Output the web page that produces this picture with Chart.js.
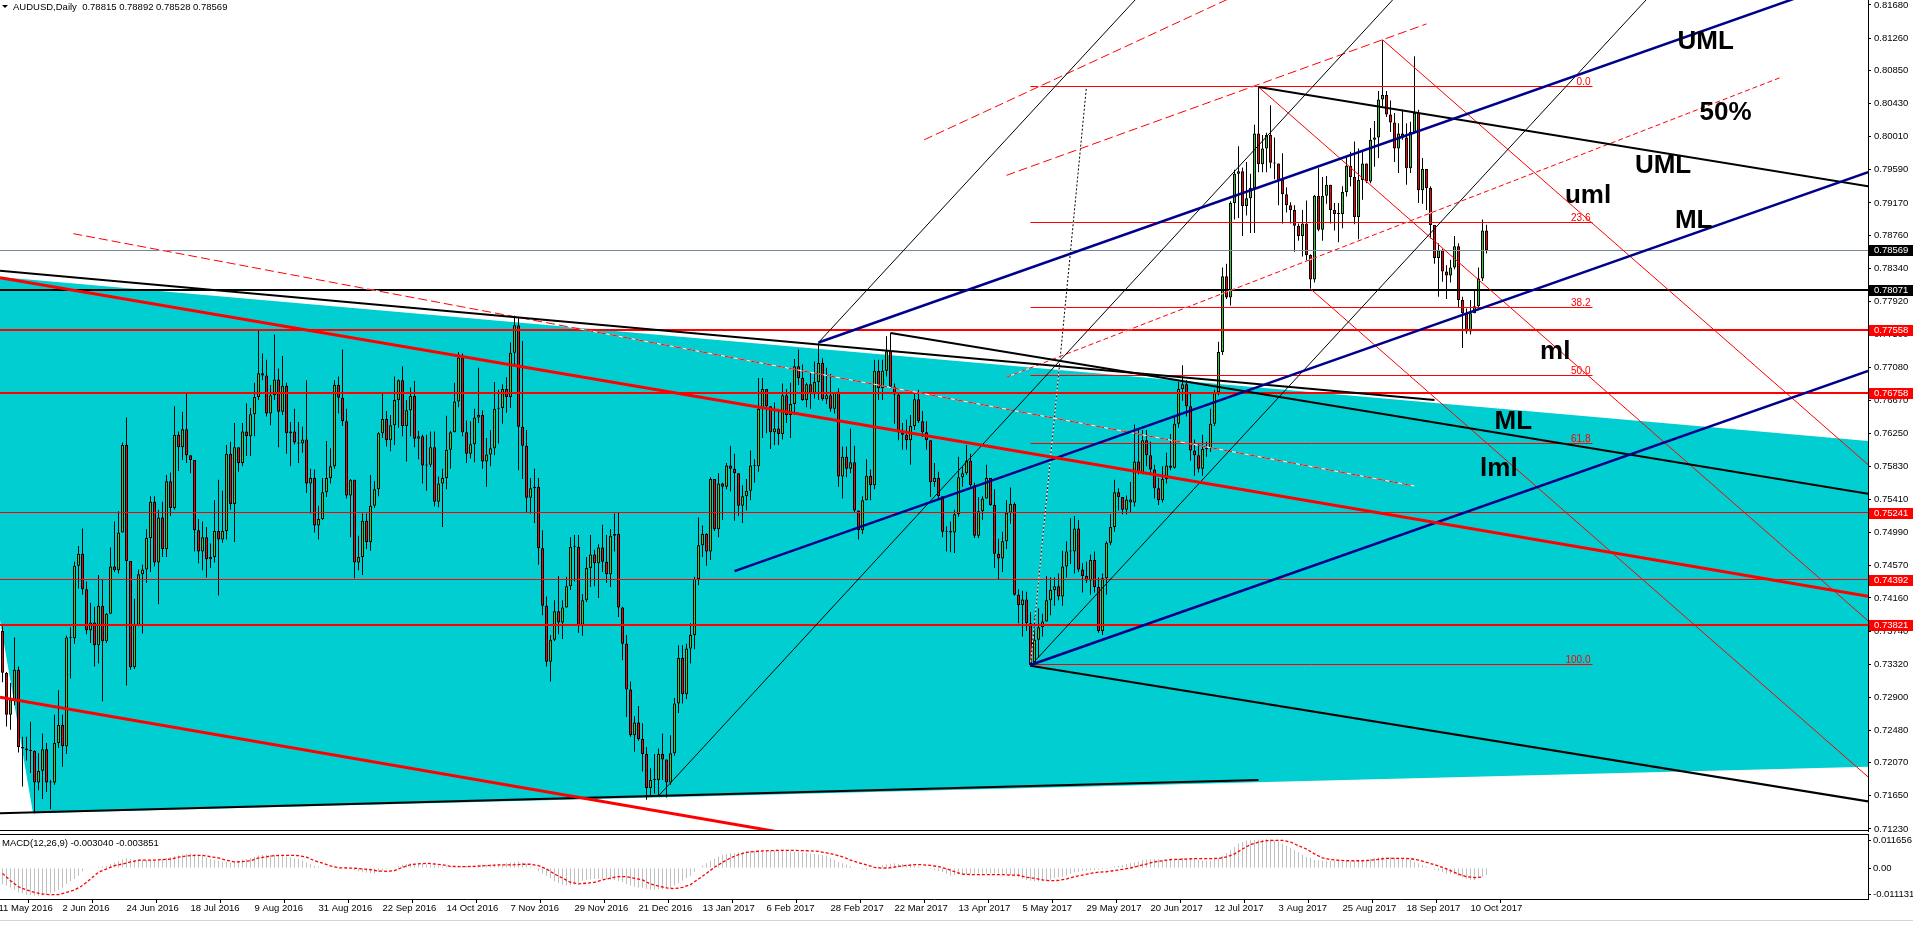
<!DOCTYPE html>
<html>
<head>
<meta charset="utf-8">
<script src="https://cdn.jsdelivr.net/npm/chart.js@4.4.0/dist/chart.umd.min.js"></script>
<style>
  html, body { margin: 0; padding: 0; background: #fff; overflow: hidden; }
  #wrap { position: relative; width: 1913px; height: 925px; }
  #main { position: absolute; left: 0; top: 0; }
  #macd { position: absolute; left: 0; top: 833px; }
</style>
</head>
<body>
<div id="wrap">
  <canvas id="main" width="1913" height="833"></canvas>
  <canvas id="macd" width="1913" height="92"></canvas>
</div>
<script>
// AUDUSD daily, 12 May 2016 .. 16 Oct 2017 (bar index 0..371)
const firstOpen = 0.7374;
const closes = [
0.7321,0.7268,0.7287,0.7325,0.7227,0.7225,0.7223,0.7222,0.7182,0.7197,
0.7224,0.7182,0.7182,0.7232,0.7255,0.7228,0.7366,0.7365,0.7457,0.7472,
0.7427,0.7375,0.7385,0.7356,0.7406,0.7361,0.7396,0.7456,0.7451,0.7499,
0.7610,0.7463,0.7328,0.7382,0.7446,0.7452,0.7492,0.7538,0.7461,0.7518,
0.7478,0.7564,0.7530,0.7623,0.7607,0.7630,0.7597,0.7591,0.7502,0.7475,
0.7493,0.7465,0.7468,0.7501,0.7490,0.7501,0.7599,0.7535,0.7607,0.7587,
0.7627,0.7621,0.7649,0.7671,0.7701,0.7698,0.7650,0.7673,0.7693,0.7652,
0.7685,0.7625,0.7627,0.7613,0.7612,0.7617,0.7561,0.7568,0.7508,0.7516,
0.7550,0.7568,
0.7583,0.7686,0.7670,0.7640,0.7546,0.7566,0.7461,0.7468,0.7514,0.7487,
0.7533,0.7554,0.7625,0.7643,0.7616,0.7635,0.7667,0.7692,0.7634,0.7654,
0.7672,0.7618,0.7621,0.7584,0.7585,0.7607,0.7538,0.7561,0.7568,0.7604,
0.7626,0.7665,0.7721,0.7626,0.7599,0.7611,0.7645,0.7648,0.7589,0.7598,
0.7606,0.7656,0.7657,0.7681,0.7671,0.7727,0.7762,0.7633,0.7609,0.7543,
0.7555,0.7557,0.7479,0.7406,0.7335,0.7363,0.7399,0.7385,0.7404,0.7431,
0.7481,0.7481,0.7382,0.7413,0.7454,0.7471,0.7460,0.7480,0.7462,0.7446,
0.7495,0.7497,0.7404,0.7358,0.7300,0.7242,0.7258,0.7237,0.7218,0.7175,
0.7185,0.7185,
0.7218,0.7211,0.7182,0.7219,0.7282,0.7340,0.7294,0.7352,0.7369,0.7440,
0.7483,0.7497,0.7475,0.7567,0.7503,0.7561,0.7557,0.7584,0.7580,0.7574,
0.7533,0.7545,0.7552,0.7584,0.7583,0.7656,0.7681,0.7659,0.7626,0.7631,
0.7624,0.7673,0.7648,0.7662,0.7710,0.7695,0.7667,0.7687,0.7675,0.7690,
0.7714,0.7668,0.7673,0.7656,0.7676,0.7570,0.7595,0.7580,0.7588,0.7527,
0.7502,0.7540,0.7571,0.7559,0.7704,0.7682,0.7704,0.7729,0.7684,0.7674,
0.7626,0.7623,0.7616,0.7634,0.7668,0.7640,0.7626,0.7616,0.7563,0.7568,
0.7545,0.7500,0.7501,0.7499,0.7522,0.7569,0.7574,0.7590,0.7559,0.7495,
0.7526,0.7542,
0.7568,0.7534,0.7472,0.7466,0.7488,0.7524,0.7535,0.7420,0.7407,0.7414,
0.7384,0.7331,0.7363,0.7379,0.7386,0.7413,0.7426,0.7431,0.7418,0.7456,
0.7475,0.7475,0.7504,0.7452,0.7444,0.7438,0.7464,0.7430,0.7374,0.7441,
0.7486,0.7506,0.7550,0.7544,0.7528,0.7541,0.7537,0.7589,0.7575,0.7616,
0.7597,0.7579,0.7555,0.7540,0.7567,0.7584,0.7581,0.7637,0.7681,0.7687,
0.7659,0.7603,0.7597,0.7580,0.7605,0.7606,0.7637,0.7677,0.7728,0.7824,
0.7797,0.7917,0.7954,0.7957,0.7913,0.7923,0.7936,0.8005,0.7966,0.7986,
0.8003,0.7968,0.7967,0.7946,0.7928,0.7914,0.7908,0.7888,0.7875,0.7891,
0.7851,0.7820,
0.7926,0.7883,0.7926,0.7940,0.7908,0.7903,0.7903,0.7931,0.7964,0.7950,
0.7899,0.7946,0.7967,0.7944,0.7997,0.8000,0.8048,0.8054,0.8029,0.8019,
0.7986,0.8005,0.8000,0.7961,0.8007,0.8031,0.7933,0.7960,0.7936,0.7889,
0.7847,0.7857,0.7830,0.7825,0.7835,0.7862,0.7794,0.7777,0.7754,0.7777,
0.7786,0.7821,0.7882,0.78569
];
const highs = [
0.7380,0.7322,0.7308,0.7366,0.7329,0.7240,0.7240,0.7259,0.7223,0.7219,
0.7244,0.7232,0.7185,0.7268,0.7299,0.7268,0.7368,0.7379,0.7462,0.7482,
0.7504,0.7437,0.7410,0.7405,0.7445,0.7440,0.7397,0.7480,0.7513,0.7526,
0.7613,0.7645,0.7451,0.7415,0.7452,0.7458,0.7503,0.7545,0.7545,0.7528,
0.7538,0.7572,0.7575,0.7659,0.7627,0.7652,0.7676,0.7595,0.7587,0.7516,
0.7513,0.7506,0.7485,0.7540,0.7566,0.7552,0.7610,0.7614,0.7638,0.7607,
0.7638,0.7663,0.7657,0.7689,0.7756,0.7726,0.7718,0.7686,0.7750,0.7707,
0.7723,0.7689,0.7639,0.7656,0.7639,0.7633,0.7692,0.7580,0.7579,0.7533,
0.7568,0.7615,
0.7606,0.7692,0.7697,0.7731,0.7656,0.7567,0.7566,0.7495,0.7523,0.7523,
0.7572,0.7564,0.7626,0.7676,0.7653,0.7648,0.7697,0.7693,0.7710,0.7667,
0.7683,0.7691,0.7628,0.7623,0.7623,0.7627,0.7627,0.7570,0.7580,0.7647,
0.7628,0.7689,0.7728,0.7726,0.7641,0.7640,0.7656,0.7708,0.7654,0.7619,
0.7629,0.7690,0.7680,0.7687,0.7696,0.7740,0.7774,0.7771,0.7742,0.7629,
0.7568,0.7580,0.7568,0.7502,0.7418,0.7369,0.7413,0.7444,0.7413,0.7443,
0.7493,0.7496,0.7496,0.7421,0.7468,0.7496,0.7477,0.7484,0.7509,0.7496,
0.7503,0.7523,0.7525,0.7405,0.7369,0.7310,0.7266,0.7279,0.7257,0.7227,
0.7200,0.7218,
0.7225,0.7244,0.7211,0.7242,0.7289,0.7356,0.7356,0.7358,0.7384,0.7443,
0.7518,0.7508,0.7498,0.7569,0.7566,0.7574,0.7562,0.7587,0.7609,0.7599,
0.7574,0.7559,0.7567,0.7603,0.7592,0.7695,0.7695,0.7680,0.7656,0.7664,
0.7656,0.7688,0.7681,0.7689,0.7719,0.7731,0.7712,0.7689,0.7701,0.7716,
0.7739,0.7720,0.7708,0.7700,0.7676,0.7682,0.7608,0.7608,0.7631,0.7609,
0.7527,0.7545,0.7592,0.7579,0.7718,0.7718,0.7718,0.7748,0.7752,0.7688,
0.7676,0.7638,0.7642,0.7648,0.7675,0.7680,0.7653,0.7640,0.7614,0.7587,
0.7576,0.7544,0.7507,0.7513,0.7528,0.7595,0.7583,0.7610,0.7599,0.7562,
0.7544,0.7545,
0.7585,0.7568,0.7554,0.7491,0.7500,0.7540,0.7556,0.7537,0.7427,0.7425,
0.7424,0.7398,0.7393,0.7403,0.7396,0.7444,0.7442,0.7442,0.7447,0.7476,
0.7488,0.7517,0.7520,0.7515,0.7460,0.7462,0.7471,0.7475,0.7442,0.7447,
0.7488,0.7522,0.7566,0.7555,0.7544,0.7546,0.7563,0.7636,0.7631,0.7629,
0.7629,0.7614,0.7585,0.7568,0.7583,0.7600,0.7624,0.7646,0.7690,0.7711,
0.7692,0.7676,0.7617,0.7612,0.7623,0.7614,0.7656,0.7680,0.7741,0.7835,
0.7840,0.7919,0.7959,0.7989,0.7962,0.7969,0.7954,0.8016,0.8064,0.8003,
0.8006,0.8041,0.8000,0.7965,0.7980,0.7937,0.7918,0.7914,0.7891,0.7908,
0.7920,0.7852,
0.7927,0.7961,0.7950,0.7951,0.7938,0.7917,0.7917,0.7938,0.7976,0.7982,
0.7995,0.7986,0.7983,0.7959,0.8012,0.8021,0.8059,0.8124,0.8059,0.8047,
0.8031,0.8018,0.8035,0.8018,0.8020,0.8103,0.8035,0.7974,0.7950,0.7938,
0.7887,0.7866,0.7859,0.7838,0.7845,0.7875,0.7866,0.7798,0.7783,0.7794,
0.7807,0.7835,0.7896,0.78892
];
const lows = [
0.7309,0.7253,0.7249,0.7280,0.7220,0.7177,0.7210,0.7194,0.7143,0.7172,
0.7161,0.7170,0.7148,0.7179,0.7226,0.7202,0.7218,0.7314,0.7358,0.7428,
0.7420,0.7370,0.7359,0.7329,0.7333,0.7285,0.7359,0.7406,0.7449,0.7447,
0.7502,0.7305,0.7325,0.7326,0.7380,0.7371,0.7435,0.7449,0.7456,0.7408,
0.7468,0.7468,0.7520,0.7528,0.7577,0.7591,0.7587,0.7574,0.7475,0.7460,
0.7451,0.7442,0.7454,0.7461,0.7419,0.7486,0.7490,0.7528,0.7487,0.7576,
0.7583,0.7596,0.7596,0.7621,0.7667,0.7692,0.7646,0.7635,0.7667,0.7607,
0.7648,0.7599,0.7583,0.7611,0.7587,0.7600,0.7549,0.7523,0.7499,0.7490,
0.7515,0.7544,
0.7561,0.7580,0.7650,0.7634,0.7542,0.7493,0.7441,0.7451,0.7445,0.7478,
0.7476,0.7530,0.7545,0.7619,0.7608,0.7602,0.7610,0.7632,0.7621,0.7589,
0.7621,0.7607,0.7592,0.7561,0.7552,0.7582,0.7532,0.7531,0.7506,0.7554,
0.7580,0.7627,0.7658,0.7621,0.7587,0.7593,0.7588,0.7638,0.7580,0.7557,
0.7583,0.7597,0.7612,0.7637,0.7651,0.7657,0.7709,0.7578,0.7567,0.7524,
0.7523,0.7511,0.7458,0.7394,0.7329,0.7310,0.7361,0.7370,0.7364,0.7406,
0.7426,0.7437,0.7372,0.7368,0.7411,0.7430,0.7431,0.7416,0.7449,0.7435,
0.7430,0.7475,0.7392,0.7337,0.7265,0.7240,0.7221,0.7235,0.7196,0.7160,
0.7164,0.7168,
0.7166,0.7185,0.7163,0.7179,0.7216,0.7270,0.7282,0.7288,0.7333,0.7351,
0.7432,0.7468,0.7457,0.7464,0.7501,0.7493,0.7515,0.7554,0.7551,0.7514,
0.7520,0.7511,0.7527,0.7540,0.7562,0.7576,0.7619,0.7625,0.7605,0.7610,
0.7610,0.7617,0.7638,0.7619,0.7648,0.7686,0.7666,0.7658,0.7656,0.7669,
0.7667,0.7666,0.7662,0.7652,0.7650,0.7557,0.7542,0.7569,0.7574,0.7524,
0.7490,0.7497,0.7540,0.7540,0.7554,0.7667,0.7667,0.7697,0.7682,0.7637,
0.7616,0.7604,0.7604,0.7585,0.7629,0.7638,0.7620,0.7604,0.7544,0.7557,
0.7540,0.7493,0.7475,0.7474,0.7473,0.7519,0.7557,0.7572,0.7557,0.7492,
0.7492,0.7515,
0.7554,0.7533,0.7454,0.7440,0.7449,0.7478,0.7510,0.7419,0.7384,0.7367,
0.7374,0.7329,0.7335,0.7340,0.7367,0.7389,0.7394,0.7406,0.7413,0.7406,
0.7442,0.7459,0.7447,0.7449,0.7423,0.7435,0.7420,0.7423,0.7372,0.7369,
0.7420,0.7483,0.7500,0.7527,0.7522,0.7522,0.7524,0.7532,0.7573,0.7573,
0.7583,0.7573,0.7542,0.7534,0.7537,0.7561,0.7578,0.7580,0.7632,0.7666,
0.7646,0.7590,0.7571,0.7575,0.7571,0.7595,0.7601,0.7634,0.7673,0.7724,
0.7795,0.7787,0.7896,0.7898,0.7875,0.7901,0.7879,0.7879,0.7956,0.7956,
0.7956,0.7961,0.7947,0.7914,0.7891,0.7905,0.7891,0.7855,0.7869,0.7849,
0.7844,0.7808,
0.7816,0.7881,0.7869,0.7916,0.7891,0.7882,0.7867,0.7885,0.7925,0.7938,
0.7890,0.7871,0.7921,0.7942,0.7942,0.7963,0.7974,0.8040,0.8026,0.8007,
0.7969,0.7955,0.7997,0.7940,0.7955,0.8005,0.7917,0.7916,0.7908,0.7872,
0.7840,0.7798,0.7817,0.7795,0.7816,0.7833,0.7785,0.7733,0.7751,0.7750,
0.7777,0.7785,0.7818,0.78528
];

// MACD(12,26,9): main line per bar, signal every second bar
const macdHist = [
-0.0068,-0.0075,-0.0083,-0.0093,-0.0104,-0.0108,-0.0114,-0.0115,-0.0117,-0.0118,
-0.0117,-0.0114,-0.0108,-0.0101,-0.0094,-0.0083,-0.0068,-0.0057,-0.0046,-0.0033,
-0.0014,-0.0003,0.0001,0.0003,0.0004,0.0007,0.0010,0.0017,0.0024,0.0030,
0.0037,0.0043,0.0038,0.0034,0.0034,0.0034,0.0034,0.0034,0.0034,0.0036,
0.0038,0.0043,0.0046,0.0050,0.0053,0.0057,0.0060,0.0063,0.0060,0.0055,
0.0053,0.0046,0.0038,0.0034,0.0031,0.0028,0.0026,0.0024,0.0028,0.0031,
0.0036,0.0038,0.0043,0.0048,0.0053,0.0055,0.0057,0.0057,0.0057,0.0057,
0.0053,0.0048,0.0046,0.0041,0.0038,0.0031,0.0024,0.0017,0.0010,0.0006,
0.0003,0.0000,0.0001,0.0003,0.0003,0.0001,0.0000,-0.0004,-0.0009,-0.0014,
-0.0018,-0.0020,-0.0021,-0.0023,-0.0017,-0.0011,-0.0006,-0.0001,0.0003,0.0007,
0.0014,0.0017,0.0020,0.0020,0.0018,0.0017,0.0016,0.0014,0.0011,0.0009,
0.0006,0.0006,0.0007,0.0009,0.0010,0.0010,0.0010,0.0010,0.0011,0.0014,
0.0014,0.0014,0.0016,0.0017,0.0017,0.0018,0.0020,0.0023,0.0026,0.0028,
0.0024,0.0017,0.0006,-0.0004,-0.0014,-0.0023,-0.0033,-0.0043,-0.0057,-0.0064,
-0.0070,-0.0075,-0.0074,-0.0071,-0.0063,-0.0054,-0.0051,-0.0048,-0.0047,-0.0047,
-0.0047,-0.0048,-0.0050,-0.0051,-0.0055,-0.0061,-0.0068,-0.0075,-0.0080,-0.0083,
-0.0085,-0.0090,-0.0094,-0.0092,-0.0091,-0.0090,-0.0087,-0.0083,-0.0075,-0.0065,
-0.0054,-0.0044,-0.0033,-0.0016,0.0000,0.0010,0.0020,0.0031,0.0040,0.0048,
0.0054,0.0060,0.0063,0.0064,0.0067,0.0068,0.0071,0.0073,0.0074,0.0077,
0.0077,0.0077,0.0075,0.0075,0.0074,0.0073,0.0071,0.0070,0.0068,0.0067,
0.0065,0.0063,0.0061,0.0060,0.0057,0.0055,0.0053,0.0043,0.0034,0.0026,
0.0020,0.0014,0.0009,0.0003,-0.0001,-0.0006,-0.0009,-0.0004,0.0000,0.0006,
0.0013,0.0016,0.0018,0.0020,0.0018,0.0017,0.0014,0.0013,0.0010,0.0006,
0.0003,0.0000,-0.0004,-0.0009,-0.0014,-0.0018,-0.0026,-0.0033,-0.0031,-0.0028,
-0.0027,-0.0026,-0.0023,-0.0023,-0.0023,-0.0023,-0.0023,-0.0023,-0.0023,-0.0023,
-0.0024,-0.0026,-0.0030,-0.0036,-0.0040,-0.0046,-0.0051,-0.0054,-0.0057,-0.0058,
-0.0057,-0.0054,-0.0050,-0.0044,-0.0040,-0.0037,-0.0033,-0.0026,-0.0018,-0.0016,
-0.0013,-0.0011,-0.0010,-0.0009,-0.0007,-0.0006,-0.0004,0.0001,0.0006,0.0010,
0.0014,0.0017,0.0020,0.0024,0.0028,0.0034,0.0036,0.0037,0.0038,0.0037,
0.0034,0.0034,0.0034,0.0037,0.0040,0.0043,0.0043,0.0043,0.0040,0.0034,
0.0031,0.0031,0.0031,0.0037,0.0043,0.0053,0.0064,0.0077,0.0091,0.0105,
0.0111,0.0117,0.0118,0.0120,0.0120,0.0121,0.0124,0.0122,0.0118,0.0114,
0.0105,0.0095,0.0085,0.0077,0.0067,0.0057,0.0048,0.0043,0.0034,0.0033,
0.0031,0.0031,0.0031,0.0031,0.0030,0.0028,0.0028,0.0028,0.0030,0.0030,
0.0031,0.0034,0.0038,0.0043,0.0046,0.0048,0.0047,0.0046,0.0044,0.0043,
0.0040,0.0037,0.0034,0.0027,0.0020,0.0013,0.0006,0.0000,-0.0006,-0.0011,
-0.0017,-0.0023,-0.0026,-0.0028,-0.0034,-0.0040,-0.0047,-0.0050,-0.0051,-0.0044,
-0.0037,-0.00304
];
const macdSignal = [
-0.0023,-0.0054,-0.0080,-0.0094,-0.0104,-0.0111,-0.0114,-0.0114,-0.0104,-0.0094,
-0.0075,-0.0047,-0.0018,-0.0004,0.0010,0.0017,0.0026,0.0033,0.0034,0.0034,
0.0036,0.0038,0.0046,0.0051,0.0054,0.0054,0.0048,0.0043,0.0033,0.0026,
0.0027,0.0031,0.0043,0.0048,0.0053,0.0054,0.0054,0.0053,0.0046,0.0031,
0.0021,0.0009,0.0001,0.0000,-0.0001,-0.0004,-0.0007,-0.0013,-0.0014,-0.0011,
0.0003,0.0014,0.0018,0.0020,0.0017,0.0014,0.0007,0.0006,0.0006,0.0007,
0.0009,0.0011,0.0013,0.0013,0.0014,0.0016,0.0016,0.0010,-0.0004,-0.0026,
-0.0043,-0.0061,-0.0068,-0.0065,-0.0061,-0.0051,-0.0043,-0.0037,-0.0037,-0.0044,
-0.0051,-0.0068,-0.0077,-0.0085,-0.0088,-0.0083,-0.0071,-0.0047,-0.0023,0.0003,
0.0024,0.0043,0.0057,0.0067,0.0070,0.0073,0.0074,0.0075,0.0075,0.0075,
0.0074,0.0073,0.0071,0.0065,0.0057,0.0048,0.0034,0.0023,0.0013,0.0003,
-0.0001,0.0001,0.0007,0.0011,0.0014,0.0014,0.0011,0.0006,-0.0003,-0.0016,
-0.0026,-0.0028,-0.0028,-0.0028,-0.0028,-0.0028,-0.0030,-0.0031,-0.0040,-0.0044,
-0.0051,-0.0054,-0.0053,-0.0047,-0.0037,-0.0030,-0.0023,-0.0018,-0.0016,-0.0011,
-0.0006,0.0000,0.0009,0.0017,0.0026,0.0031,0.0036,0.0037,0.0038,0.0040,
0.0040,0.0040,0.0041,0.0047,0.0060,0.0081,0.0100,0.0110,0.0117,0.0118,
0.0118,0.0111,0.0095,0.0081,0.0060,0.0043,0.0036,0.0033,0.0031,0.0031,
0.0031,0.0033,0.0037,0.0041,0.0041,0.0041,0.0040,0.0034,0.0024,0.0014,
0.0003,-0.0011,-0.0026,-0.0037,-0.0041,-0.0039
];

// axes
const priceTicks = [0.81680,0.81260,0.80850,0.80430,0.80010,0.79590,0.79170,0.78760,0.78340,0.77920,
  0.77500,0.77080,0.76670,0.76250,0.75830,0.75410,0.74990,0.74570,0.74160,0.73740,0.73320,0.72900,
  0.72480,0.72070,0.71650,0.71230];
const macdTicks = [0.011656, 0, -0.011131];
const macdTickLabels = ['0.011656', '0.00', '-0.011131'];
const dateLabels = ['11 May 2016','2 Jun 2016','24 Jun 2016','18 Jul 2016','9 Aug 2016','31 Aug 2016',
  '22 Sep 2016','14 Oct 2016','7 Nov 2016','29 Nov 2016','21 Dec 2016','13 Jan 2017','6 Feb 2017',
  '28 Feb 2017','22 Mar 2017','13 Apr 2017','5 May 2017','29 May 2017','20 Jun 2017','12 Jul 2017',
  '3 Aug 2017','25 Aug 2017','18 Sep 2017','10 Oct 2017'];
const dateBars = [-1,15,31,47,63,79,95,111,127,143,159,175,191,207,223,239,255,271,287,303,319,335,351,367];

// horizontal levels with their price tags
const levelPrices = [0.78569, 0.78071, 0.77558, 0.76758, 0.75241, 0.74392, 0.73821];
const levelStyle = [
  {color: '#778899', width: 1, tag: '#000'},
  {color: '#000', width: 2, tag: '#000'},
  {color: '#f00', width: 2, tag: '#f00'},
  {color: '#f00', width: 2, tag: '#f00'},
  {color: '#f00', width: 1, tag: '#f00'},
  {color: '#f00', width: 1, tag: '#f00'},
  {color: '#f00', width: 2, tag: '#f00'}
];

// fibonacci retracement (May low to July high)
const fibHigh = 0.80645, fibLow = 0.73322;
const fibLevels = [0, 23.6, 38.2, 50, 61.8, 100];
const fibSpan = [257, 397.5];

// drawn objects, points are [bar index, price]
const cyanArea = [[-0.625, 0.7823], [466.375, 0.7615], [466.375, 0.7202], [7.625, 0.7143], [-0.625, 0.7388]];
const blackThick = [
  [[-0.625, 0.7831], [358, 0.7667]],
  [[222, 0.7752], [466.4, 0.7548]],
  [[314, 0.8064], [466.4, 0.7938]],
  [[257, 0.7330], [466.4, 0.7158]],
  [[-0.625, 0.7143], [314, 0.7185]]
];
const blueLines = [
  [[204, 0.7740], [466.4, 0.8209]],
  [[183, 0.7450], [466.4, 0.7956]],
  [[257, 0.7331], [466.4, 0.7704]]
];
const blackThin = [
  [[164, 0.7165], [352, 0.8199]],
  [[204, 0.7740], [290, 0.8212]],
  [[257, 0.7330], [415, 0.8197]]
];
const fibDiagonal = [[257, 0.7332], [271, 0.8065]];
const redThick = [
  [[-0.625, 0.7822], [466.4, 0.7418]],
  [[-0.625, 0.7290], [200, 0.7114]]
];
const redThin = [
  [[345, 0.8124], [470, 0.7569]],
  [[314, 0.8064], [470, 0.7371]],
  [[327, 0.7808], [470, 0.7173]]
];
const redDashed = [
  [[17.7, 0.7878], [353, 0.7558]],
  [[230.4, 0.7997], [310, 0.8184]],
  [[251, 0.7952], [356, 0.8144]]
];
const redDotted = [[[251, 0.7696], [445, 0.8077]]];
const notes = [
  {text: 'UML', at: [418.75, 0.81125]},
  {text: '50%', at: [424.25, 0.80227]},
  {text: 'UML', at: [408.1, 0.79549]},
  {text: 'uml', at: [390.6, 0.79175]},
  {text: 'ML', at: [418.1, 0.78852]},
  {text: 'ml', at: [384.4, 0.77194]},
  {text: 'ML', at: [373.0, 0.76298]},
  {text: 'lml', at: [369.4, 0.75707]}
];
const title = 'AUDUSD,Daily  0.78815 0.78892 0.78528 0.78569';
const macdTitle = 'MACD(12,26,9) -0.003040 -0.003851';

const FONT = 'Liberation Sans, Arial, sans-serif';
const xMin = -0.625, xMax = 466.375;

const opens = closes.map((c, i) => (i === 0 ? firstOpen : closes[i - 1]));
const wickData = closes.map((c, i) => ({
  x: i, y: [Math.min(lows[i], opens[i], c), Math.max(highs[i], opens[i], c)]
}));
const bodyData = closes.map((c, i) => ({x: i, y: [opens[i], c]}));
const bodyColors = closes.map((c, i) => (c >= opens[i] ? '#32cd32' : '#ff0000'));

function line(ctx, xs, ys, a, b, color, width, dash, underlay) {
  ctx.beginPath();
  ctx.moveTo(xs.getPixelForValue(a[0]), ys.getPixelForValue(a[1]));
  ctx.lineTo(xs.getPixelForValue(b[0]), ys.getPixelForValue(b[1]));
  ctx.lineWidth = width;
  if (underlay) {
    ctx.setLineDash([]);
    ctx.strokeStyle = '#fff';
    ctx.stroke();
  }
  ctx.setLineDash(dash || []);
  ctx.strokeStyle = color;
  ctx.stroke();
  ctx.setLineDash([]);
}

function clipArea(ctx, a) {
  ctx.beginPath();
  ctx.rect(a.left, a.top, a.right - a.left, a.bottom - a.top);
  ctx.clip();
}

const mainOverlay = {
  id: 'mainOverlay',
  beforeDatasetsDraw(chart) {
    const {ctx, chartArea, scales: {x, y}} = chart;
    ctx.save();
    clipArea(ctx, chartArea);
    ctx.fillStyle = '#00ced1';
    ctx.beginPath();
    cyanArea.forEach(([k, p], i) => {
      const px = x.getPixelForValue(k), py = y.getPixelForValue(p);
      if (i === 0) ctx.moveTo(px, py); else ctx.lineTo(px, py);
    });
    ctx.closePath();
    ctx.fill();
    ctx.restore();
  },
  afterDatasetsDraw(chart) {
    const {ctx, chartArea, scales: {x, y}} = chart;
    ctx.save();
    clipArea(ctx, chartArea);

    // fibonacci
    const x1 = x.getPixelForValue(fibSpan[0]), x2 = x.getPixelForValue(fibSpan[1]);
    ctx.font = '10px ' + FONT;
    ctx.textAlign = 'right';
    ctx.textBaseline = 'alphabetic';
    fibLevels.forEach(lv => {
      const py = Math.floor(y.getPixelForValue(fibHigh - (fibHigh - fibLow) * lv / 100)) + 0.5;
      ctx.strokeStyle = '#f00';
      ctx.lineWidth = 1;
      ctx.beginPath(); ctx.moveTo(x1, py); ctx.lineTo(x2, py); ctx.stroke();
      ctx.fillStyle = '#f00';
      ctx.fillText(lv.toFixed(1), x2 - 2, py - 2);
    });
    line(ctx, x, y, fibDiagonal[0], fibDiagonal[1], '#000', 1, [2, 2], true);

    // horizontal levels
    levelPrices.forEach((p, i) => {
      const st = levelStyle[i];
      let py = y.getPixelForValue(p);
      py = st.width === 1 ? Math.floor(py) + 0.5 : Math.round(py);
      ctx.strokeStyle = st.color;
      ctx.lineWidth = st.width;
      ctx.beginPath(); ctx.moveTo(chartArea.left, py); ctx.lineTo(chartArea.right, py); ctx.stroke();
    });

    redDashed.forEach(s => line(ctx, x, y, s[0], s[1], '#f00', 1, [9, 4], true));
    redDotted.forEach(s => line(ctx, x, y, s[0], s[1], '#f00', 1, [5, 3], true));
    redThin.forEach(s => line(ctx, x, y, s[0], s[1], '#f00', 1));
    blackThin.forEach(s => line(ctx, x, y, s[0], s[1], '#000', 1));
    blackThick.forEach(s => line(ctx, x, y, s[0], s[1], '#000', 2));
    blueLines.forEach(s => line(ctx, x, y, s[0], s[1], '#00008b', 2.5));
    redThick.forEach(s => line(ctx, x, y, s[0], s[1], '#f00', 3));

    ctx.fillStyle = '#000';
    ctx.font = 'bold 26px ' + FONT;
    ctx.textAlign = 'left';
    ctx.textBaseline = 'alphabetic';
    notes.forEach(n => ctx.fillText(n.text, x.getPixelForValue(n.at[0]), y.getPixelForValue(n.at[1])));

    // bottom border of the price pane
    ctx.strokeStyle = '#000';
    ctx.lineWidth = 1;
    ctx.beginPath(); ctx.moveTo(0, chartArea.bottom - 0.5); ctx.lineTo(chartArea.right, chartArea.bottom - 0.5); ctx.stroke();
    ctx.restore();
  },
  afterDraw(chart) {
    const {ctx, chartArea, scales: {y}} = chart;
    ctx.save();
    ctx.font = '9.5px ' + FONT;
    ctx.textBaseline = 'middle';
    ctx.textAlign = 'left';
    levelPrices.forEach((p, i) => {
      const py = Math.round(y.getPixelForValue(p));
      ctx.fillStyle = levelStyle[i].tag;
      ctx.fillRect(chartArea.right + 1, py - 5, 45, 11);
      ctx.fillStyle = '#fff';
      ctx.fillText(p.toFixed(5), chartArea.right + 6, py + 0.5);
    });
    // title
    ctx.fillStyle = '#000';
    ctx.beginPath(); ctx.moveTo(2, 5); ctx.lineTo(8, 5); ctx.lineTo(5, 8); ctx.closePath(); ctx.fill();
    ctx.fillText(title, 13, 7);
    ctx.restore();
  }
};

new Chart(document.getElementById('main'), {
  type: 'bar',
  data: {
    datasets: [
      {
        data: wickData, backgroundColor: '#000', barThickness: 1, grouped: false,
        inflateAmount: 0, borderWidth: 0, order: 2
      },
      {
        data: bodyData, backgroundColor: bodyColors, borderColor: '#000', borderWidth: 1,
        borderSkipped: false, barThickness: 3, minBarLength: 1, grouped: false, inflateAmount: 0, order: 1
      }
    ]
  },
  options: {
    responsive: false,
    animation: false,
    events: [],
    layout: {padding: {left: 0, right: 0, top: 0, bottom: 2}, autoPadding: false},
    plugins: {legend: {display: false}, tooltip: {enabled: false}},
    scales: {
      x: {type: 'linear', min: xMin, max: xMax, offset: false, display: false},
      y: {
        type: 'linear', position: 'right', min: 0.712045, max: 0.817434,
        afterBuildTicks: s => { s.ticks = priceTicks.map(v => ({value: v})); },
        afterFit: s => { s.width = 45; s.paddingTop = 0; s.paddingBottom = 0; },
        ticks: {callback: v => v.toFixed(5), color: '#000', font: {family: FONT, size: 9.5}, padding: 3, autoSkip: false},
        grid: {display: true, drawOnChartArea: false, drawTicks: true, tickLength: 3, color: '#000'},
        border: {display: true, color: '#000', width: 1}
      }
    }
  },
  plugins: [mainOverlay]
});

const macdOverlay = {
  id: 'macdOverlay',
  afterDraw(chart) {
    const {ctx, chartArea} = chart;
    ctx.save();
    ctx.strokeStyle = '#000';
    ctx.lineWidth = 1;
    ctx.beginPath(); ctx.moveTo(0, chartArea.top + 0.5); ctx.lineTo(chartArea.right, chartArea.top + 0.5); ctx.stroke();
    ctx.strokeStyle = '#d4d4d4';
    ctx.beginPath(); ctx.moveTo(0, 87.5); ctx.lineTo(chart.width, 87.5); ctx.stroke();
    ctx.fillStyle = '#000';
    ctx.font = '9.5px ' + FONT;
    ctx.textBaseline = 'middle';
    ctx.fillText(macdTitle, 2, chartArea.top + 9.5);
    ctx.restore();
  }
};

new Chart(document.getElementById('macd'), {
  type: 'bar',
  data: {
    datasets: [
      {
        type: 'line', data: macdSignal.map((v, i) => ({x: i * 2, y: v})),
        borderColor: '#ff0000', borderWidth: 1.3, borderDash: [3, 2], pointRadius: 0, tension: 0, order: 1
      },
      {
        data: macdHist.map((v, i) => ({x: i, y: v})), backgroundColor: '#c0c0c0',
        barThickness: 1, grouped: false, inflateAmount: 0, order: 2
      }
    ]
  },
  options: {
    responsive: false,
    animation: false,
    events: [],
    layout: {padding: {left: 0, right: 0, top: 1, bottom: 0}, autoPadding: false},
    plugins: {legend: {display: false}, tooltip: {enabled: false}},
    scales: {
      x: {
        type: 'linear', position: 'bottom', min: xMin, max: xMax, offset: false,
        afterBuildTicks: s => { s.ticks = dateBars.map(b => ({value: b - 0.5})); },
        afterFit: s => { s.height = 26; s.paddingLeft = 0; s.paddingRight = 0; },
        ticks: {
          callback: (v, i) => dateLabels[i], align: 'start', labelOffset: 2, maxRotation: 0, minRotation: 0,
          autoSkip: false, padding: 0, color: '#000', font: {family: FONT, size: 9.5}
        },
        grid: {display: true, drawOnChartArea: false, drawTicks: true, tickLength: 4, color: '#000'},
        border: {display: true, color: '#000', width: 1}
      },
      y: {
        type: 'linear', position: 'right', min: -0.013237, max: 0.014518,
        afterBuildTicks: s => { s.ticks = macdTicks.map(v => ({value: v})); },
        afterFit: s => { s.width = 45; s.paddingTop = 0; s.paddingBottom = 0; },
        ticks: {callback: (v, i) => macdTickLabels[i], color: '#000', font: {family: FONT, size: 9.5}, padding: 2, autoSkip: false},
        grid: {display: true, drawOnChartArea: false, drawTicks: true, tickLength: 3, color: '#000'},
        border: {display: true, color: '#000', width: 1}
      }
    }
  },
  plugins: [macdOverlay]
});
</script>
</body>
</html>
